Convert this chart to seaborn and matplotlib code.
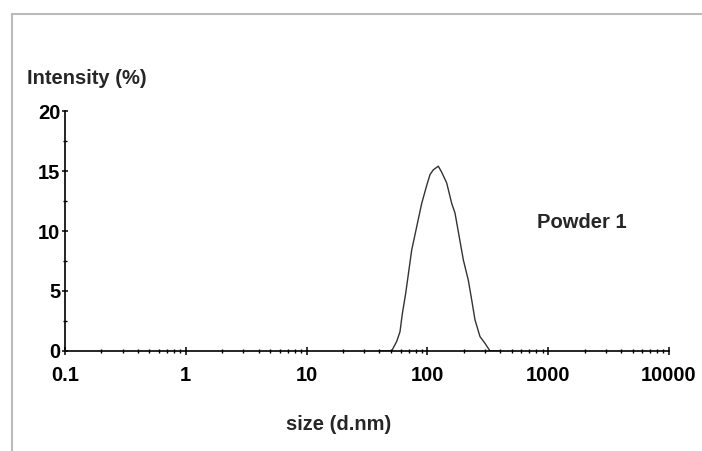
import matplotlib
matplotlib.use("Agg")
import matplotlib.pyplot as plt
from matplotlib.lines import Line2D
from matplotlib.ticker import LogLocator, NullFormatter, FixedLocator
import seaborn as sns
import pandas as pd

# Data (size in d.nm, intensity in %)
sizes = [40.0, 50.6, 55.7, 59.3, 62.0, 66.1, 74.1, 89.7, 98.7, 105.1,
         111.9, 123.1, 131.3, 144.5, 158.9, 169.2, 198.3, 218.1, 232.7,
         247.7, 272.5, 299.8, 329.8, 400.0]
intensity = [0.0, 0.0, 0.8, 1.6, 3.1, 4.8, 8.4, 12.3, 13.8, 14.7,
             15.1, 15.4, 14.9, 14.0, 12.3, 11.5, 7.6, 5.9, 4.25,
             2.6, 1.2, 0.64, 0.0, 0.0]
x_ticks = [0.1, 1, 10, 100, 1000, 10000]
x_tick_labels = ["0.1", "1", "10", "100", "1000", "10000"]
y_ticks = [0, 5, 10, 15, 20]
series_label = "Powder 1"

sns.set_style("ticks")
plt.rcParams["font.family"] = ["Liberation Sans", "DejaVu Sans"]

df = pd.DataFrame({"size": sizes, "intensity": intensity})

fig = plt.figure(figsize=(7.02, 4.51), dpi=100)
ax = fig.add_axes([65 / 702, 1 - 351 / 451, (669 - 65) / 702, (351 - 111) / 451])

sns.lineplot(data=df, x="size", y="intensity", ax=ax, color="#333333",
             linewidth=1.0, sort=True)

ax.set_xscale("log")
ax.set_xlim(0.1, 10000)
ax.set_ylim(0, 20)
ax.set_xticks(x_ticks)
ax.set_xticklabels(x_tick_labels)
ax.xaxis.set_minor_locator(LogLocator(base=10, subs=range(2, 10), numticks=20))
ax.xaxis.set_minor_formatter(NullFormatter())
ax.set_yticks(y_ticks)
ax.yaxis.set_minor_locator(FixedLocator([2.5, 7.5, 12.5, 17.5]))

for s in ["top", "right"]:
    ax.spines[s].set_visible(False)
for s in ["left", "bottom"]:
    ax.spines[s].set_color("black")
    ax.spines[s].set_linewidth(1.2)

FS = 14.5
ax.tick_params(axis="x", which="major", direction="inout", length=6, width=1.1,
               pad=8, labelsize=FS, colors="black")
ax.tick_params(axis="x", which="minor", direction="inout", length=3.5, width=1.0,
               colors="black")
ax.tick_params(axis="y", which="major", direction="inout", length=4.5, width=1.1,
               pad=1, labelsize=FS, colors="black")
ax.tick_params(axis="y", which="minor", direction="inout", length=3, width=1.0,
               colors="black")
for lab in ax.get_xticklabels() + ax.get_yticklabels():
    lab.set_fontweight("bold")

ax.set_xlabel("")
ax.set_ylabel("")
ax.patch.set_alpha(0)

fig.text(27 / 702, 1 - 78 / 451, "Intensity (%)", fontsize=FS, fontweight="bold",
         ha="left", va="center")
fig.text(339 / 702, 1 - 425 / 451, "size (d.nm)", fontsize=FS, fontweight="bold",
         ha="center", va="center")
fig.text(582 / 702, 1 - 223 / 451, series_label, fontsize=FS, fontweight="bold",
         ha="center", va="center")

# light gray frame (top and left)
fig.add_artist(Line2D([12 / 702, 1.0], [1 - 14 / 451, 1 - 14 / 451],
                      transform=fig.transFigure, color="#bbbbbb", linewidth=1.5))
fig.add_artist(Line2D([12 / 702, 12 / 702], [1 - 14 / 451, 0.0],
                      transform=fig.transFigure, color="#bbbbbb", linewidth=1.5))

fig.savefig("out.png", dpi=100)
